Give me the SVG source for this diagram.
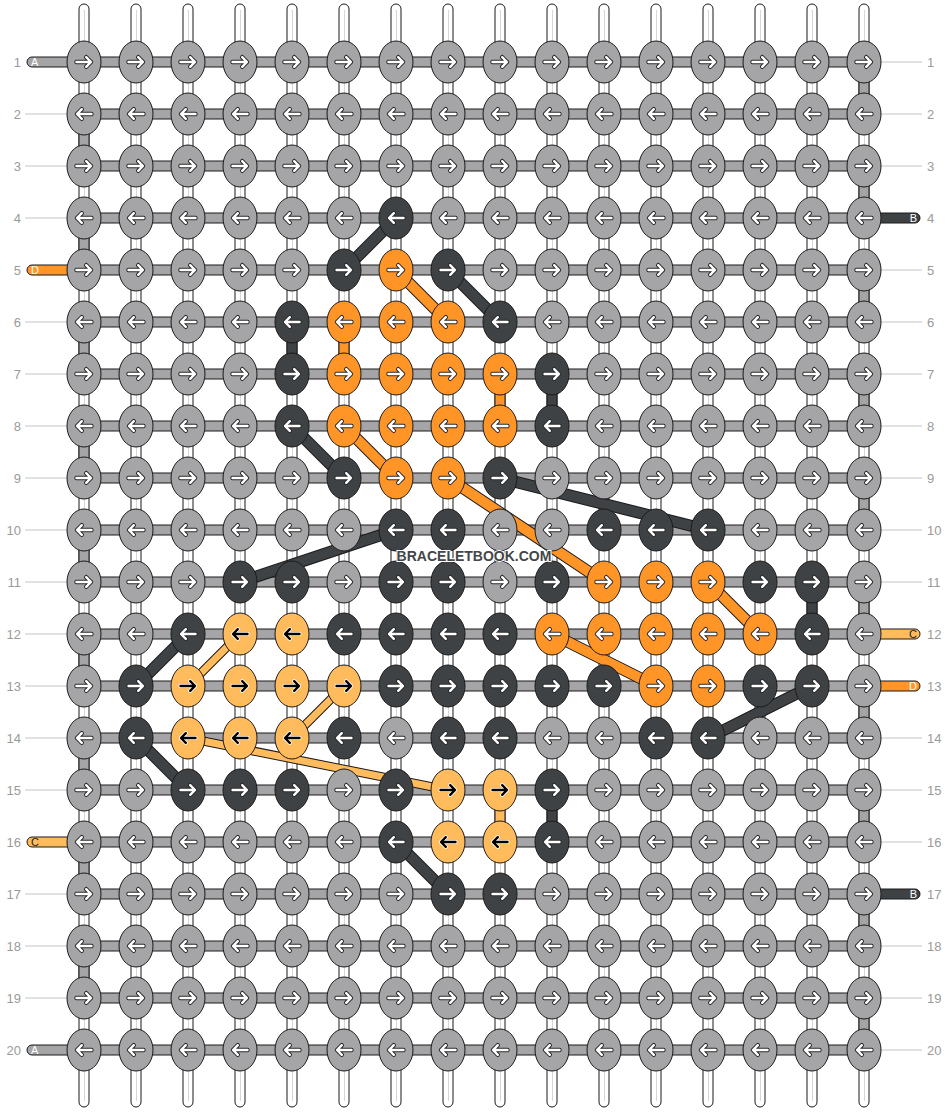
<svg xmlns="http://www.w3.org/2000/svg" width="948" height="1112" viewBox="0 0 948 1112">
<style>
.a{fill:#A5A4A6}.b{fill:#3F4245}.c{fill:#FFBB5C}.d{fill:#FF9527}
.st{stroke:#1a1a1a;stroke-width:1}
.num{font-family:"Liberation Sans",Arial,sans-serif;font-size:13px;fill:#9a9a9a}
.tl{font-family:"Liberation Sans",Arial,sans-serif;font-size:11px}
.guide{stroke:#c4c4c4;stroke-width:1;fill:none}
.vs{fill:#fff;stroke:#1a1a1a;stroke-width:1}
.vin{stroke:#d6d6d6;stroke-width:1;fill:none}
.hs{fill:#A5A4A6;stroke:#1a1a1a;stroke-width:1}
</style>
<defs>
<ellipse id="K" rx="17" ry="21" stroke="#1a1a1a" stroke-width="1"/>
<path id="ar" d="M-7.5,0H6.5M2.2,-4.8L7,0L2.2,4.8" fill="none" stroke-linecap="round" stroke-linejoin="round"/>
<g id="R"><use href="#ar" stroke="#2a2a2a" stroke-width="4.4"/><use href="#ar" stroke="#fff" stroke-width="2.4"/></g>
<g id="L"><use href="#R" transform="scale(-1,1)"/></g>
<g id="Rc"><use href="#ar" stroke="#fff" stroke-width="4"/><use href="#ar" stroke="#000" stroke-width="2.4"/></g>
<g id="Lc"><use href="#Rc" transform="scale(-1,1)"/></g>
<g id="KR"><use href="#K"/><use href="#R"/></g>
<g id="KL"><use href="#K"/><use href="#L"/></g>
<g id="KRc"><use href="#K"/><use href="#Rc"/></g>
<g id="KLc"><use href="#K"/><use href="#Lc"/></g>
<path id="dB" d="M396,218L344,270M448,270L500,322M292,426L344,478M500,478L708,530M396,530L240,582M188,634L136,686M812,686L708,738M136,738L188,790M396,842L448,894"/>
<path id="dD" d="M396,270L448,322M344,426L396,478M448,478L604,582M708,582L760,634M552,634L656,686"/>
<path id="dC" d="M240,634L188,686M344,686L292,738M188,738L448,790"/>
</defs>

<g id="guides">
<path class="guide" d="M25,114H67M25,166H67M25,218H67M25,322H67M25,374H67M25,426H67M25,478H67M25,530H67M25,582H67M25,634H67M25,686H67M25,738H67M25,790H67M25,894H67M25,946H67M25,998H67"/>
<path class="guide" d="M881,62H922M881,114H922M881,166H922M881,270H922M881,322H922M881,374H922M881,426H922M881,478H922M881,530H922M881,582H922M881,738H922M881,790H922M881,842H922M881,946H922M881,998H922M881,1050H922"/>
</g>
<g id="row-labels-left" class="num" text-anchor="end">
<text x="21" y="66.5">1</text><text x="21" y="118.5">2</text><text x="21" y="170.5">3</text><text x="21" y="222.5">4</text><text x="21" y="274.5">5</text><text x="21" y="326.5">6</text><text x="21" y="378.5">7</text><text x="21" y="430.5">8</text><text x="21" y="482.5">9</text><text x="21" y="534.5">10</text><text x="21" y="586.5">11</text><text x="21" y="638.5">12</text><text x="21" y="690.5">13</text><text x="21" y="742.5">14</text><text x="21" y="794.5">15</text><text x="21" y="846.5">16</text><text x="21" y="898.5">17</text><text x="21" y="950.5">18</text><text x="21" y="1002.5">19</text><text x="21" y="1054.5">20</text>
</g>
<g id="row-labels-right" class="num">
<text x="927" y="66.5">1</text><text x="927" y="118.5">2</text><text x="927" y="170.5">3</text><text x="927" y="222.5">4</text><text x="927" y="274.5">5</text><text x="927" y="326.5">6</text><text x="927" y="378.5">7</text><text x="927" y="430.5">8</text><text x="927" y="482.5">9</text><text x="927" y="534.5">10</text><text x="927" y="586.5">11</text><text x="927" y="638.5">12</text><text x="927" y="690.5">13</text><text x="927" y="742.5">14</text><text x="927" y="794.5">15</text><text x="927" y="846.5">16</text><text x="927" y="898.5">17</text><text x="927" y="950.5">18</text><text x="927" y="1002.5">19</text><text x="927" y="1054.5">20</text>
</g>

<g id="vertical-strands">
<rect class="vs" x="79" y="4" width="10" height="1103" rx="5"/><rect class="vs" x="131" y="4" width="10" height="1103" rx="5"/><rect class="vs" x="183" y="4" width="10" height="1103" rx="5"/><rect class="vs" x="235" y="4" width="10" height="1103" rx="5"/><rect class="vs" x="287" y="4" width="10" height="1103" rx="5"/><rect class="vs" x="339" y="4" width="10" height="1103" rx="5"/><rect class="vs" x="391" y="4" width="10" height="1103" rx="5"/><rect class="vs" x="443" y="4" width="10" height="1103" rx="5"/><rect class="vs" x="495" y="4" width="10" height="1103" rx="5"/><rect class="vs" x="547" y="4" width="10" height="1103" rx="5"/><rect class="vs" x="599" y="4" width="10" height="1103" rx="5"/><rect class="vs" x="651" y="4" width="10" height="1103" rx="5"/><rect class="vs" x="703" y="4" width="10" height="1103" rx="5"/><rect class="vs" x="755" y="4" width="10" height="1103" rx="5"/><rect class="vs" x="807" y="4" width="10" height="1103" rx="5"/><rect class="vs" x="859" y="4" width="10" height="1103" rx="5"/>
<path class="vin" d="M84.5,10V1101M136.5,10V1101M188.5,10V1101M240.5,10V1101M292.5,10V1101M344.5,10V1101M396.5,10V1101M448.5,10V1101M500.5,10V1101M552.5,10V1101M604.5,10V1101M656.5,10V1101M708.5,10V1101M760.5,10V1101M812.5,10V1101M864.5,10V1101"/>
</g>

<g id="horizontal-strands">
<rect class="hs" x="84" y="57" width="780" height="10"/><rect class="hs" x="84" y="109" width="780" height="10"/><rect class="hs" x="84" y="161" width="780" height="10"/><rect class="hs" x="84" y="213" width="780" height="10"/><rect class="hs" x="84" y="265" width="780" height="10"/><rect class="hs" x="84" y="317" width="780" height="10"/><rect class="hs" x="84" y="369" width="780" height="10"/><rect class="hs" x="84" y="421" width="780" height="10"/><rect class="hs" x="84" y="473" width="780" height="10"/><rect class="hs" x="84" y="525" width="780" height="10"/><rect class="hs" x="84" y="577" width="780" height="10"/><rect class="hs" x="84" y="629" width="780" height="10"/><rect class="hs" x="84" y="681" width="780" height="10"/><rect class="hs" x="84" y="733" width="780" height="10"/><rect class="hs" x="84" y="785" width="780" height="10"/><rect class="hs" x="84" y="837" width="780" height="10"/><rect class="hs" x="84" y="889" width="780" height="10"/><rect class="hs" x="84" y="941" width="780" height="10"/><rect class="hs" x="84" y="993" width="780" height="10"/><rect class="hs" x="84" y="1045" width="780" height="10"/>
</g>

<g id="thread-ends">
<rect class="a st" x="27" y="57" width="60" height="10" rx="5"/><text class="tl" x="31" y="66" fill="#fff">A</text>
<rect class="d st" x="27" y="265" width="60" height="10" rx="5"/><text class="tl" x="31" y="274" fill="#fff">D</text>
<rect class="c st" x="27" y="837" width="60" height="10" rx="5"/><text class="tl" x="31" y="846" fill="#222">C</text>
<rect class="a st" x="27" y="1045" width="60" height="10" rx="5"/><text class="tl" x="31" y="1054" fill="#fff">A</text>
<rect class="b st" x="861" y="213" width="59" height="10" rx="5"/><text class="tl" x="917" y="222" fill="#fff" text-anchor="end">B</text>
<rect class="c st" x="861" y="629" width="59" height="10" rx="5"/><text class="tl" x="917" y="638" fill="#222" text-anchor="end">C</text>
<rect class="d st" x="861" y="681" width="59" height="10" rx="5"/><text class="tl" x="917" y="690" fill="#fff" text-anchor="end">D</text>
<rect class="b st" x="861" y="889" width="59" height="10" rx="5"/><text class="tl" x="917" y="898" fill="#fff" text-anchor="end">B</text>
</g>

<g id="connectors">
<g class="a st">
<rect x="859" y="62" width="10" height="52"/><rect x="859" y="166" width="10" height="52"/><rect x="859" y="270" width="10" height="52"/><rect x="859" y="374" width="10" height="52"/><rect x="859" y="478" width="10" height="52"/><rect x="859" y="582" width="10" height="52"/><rect x="859" y="686" width="10" height="52"/><rect x="859" y="790" width="10" height="52"/><rect x="859" y="894" width="10" height="52"/><rect x="859" y="998" width="10" height="52"/>
<rect x="79" y="114" width="10" height="52"/><rect x="79" y="218" width="10" height="52"/><rect x="79" y="322" width="10" height="52"/><rect x="79" y="426" width="10" height="52"/><rect x="79" y="530" width="10" height="52"/><rect x="79" y="634" width="10" height="52"/><rect x="79" y="738" width="10" height="52"/><rect x="79" y="842" width="10" height="52"/><rect x="79" y="946" width="10" height="52"/>
</g>
<g class="b st">
<rect x="287" y="322" width="10" height="52"/><rect x="547" y="374" width="10" height="52"/><rect x="807" y="582" width="10" height="52"/><rect x="547" y="790" width="10" height="52"/>
</g>
<g class="d st">
<rect x="339" y="322" width="10" height="52"/><rect x="495" y="374" width="10" height="52"/>
</g>
<g class="c st">
<rect x="495" y="790" width="10" height="52"/>
</g>
<use href="#dB" fill="none" stroke="#1a1a1a" stroke-width="12"/>
<use href="#dB" fill="none" stroke="#3F4245" stroke-width="10"/>
<use href="#dD" fill="none" stroke="#1a1a1a" stroke-width="12"/>
<use href="#dD" fill="none" stroke="#FF9527" stroke-width="10"/>
<use href="#dC" fill="none" stroke="#1a1a1a" stroke-width="9"/>
<use href="#dC" fill="none" stroke="#FFBB5C" stroke-width="7"/>
</g>

<g id="knots">
<g id="n1-1" class="a" transform="translate(84 62)"><use href="#KR"/></g><g id="n1-2" class="a" transform="translate(136 62)"><use href="#KR"/></g><g id="n1-3" class="a" transform="translate(188 62)"><use href="#KR"/></g><g id="n1-4" class="a" transform="translate(240 62)"><use href="#KR"/></g><g id="n1-5" class="a" transform="translate(292 62)"><use href="#KR"/></g><g id="n1-6" class="a" transform="translate(344 62)"><use href="#KR"/></g><g id="n1-7" class="a" transform="translate(396 62)"><use href="#KR"/></g><g id="n1-8" class="a" transform="translate(448 62)"><use href="#KR"/></g><g id="n1-9" class="a" transform="translate(500 62)"><use href="#KR"/></g><g id="n1-10" class="a" transform="translate(552 62)"><use href="#KR"/></g><g id="n1-11" class="a" transform="translate(604 62)"><use href="#KR"/></g><g id="n1-12" class="a" transform="translate(656 62)"><use href="#KR"/></g><g id="n1-13" class="a" transform="translate(708 62)"><use href="#KR"/></g><g id="n1-14" class="a" transform="translate(760 62)"><use href="#KR"/></g><g id="n1-15" class="a" transform="translate(812 62)"><use href="#KR"/></g><g id="n1-16" class="a" transform="translate(864 62)"><use href="#KR"/></g>
<g id="n2-1" class="a" transform="translate(84 114)"><use href="#KL"/></g><g id="n2-2" class="a" transform="translate(136 114)"><use href="#KL"/></g><g id="n2-3" class="a" transform="translate(188 114)"><use href="#KL"/></g><g id="n2-4" class="a" transform="translate(240 114)"><use href="#KL"/></g><g id="n2-5" class="a" transform="translate(292 114)"><use href="#KL"/></g><g id="n2-6" class="a" transform="translate(344 114)"><use href="#KL"/></g><g id="n2-7" class="a" transform="translate(396 114)"><use href="#KL"/></g><g id="n2-8" class="a" transform="translate(448 114)"><use href="#KL"/></g><g id="n2-9" class="a" transform="translate(500 114)"><use href="#KL"/></g><g id="n2-10" class="a" transform="translate(552 114)"><use href="#KL"/></g><g id="n2-11" class="a" transform="translate(604 114)"><use href="#KL"/></g><g id="n2-12" class="a" transform="translate(656 114)"><use href="#KL"/></g><g id="n2-13" class="a" transform="translate(708 114)"><use href="#KL"/></g><g id="n2-14" class="a" transform="translate(760 114)"><use href="#KL"/></g><g id="n2-15" class="a" transform="translate(812 114)"><use href="#KL"/></g><g id="n2-16" class="a" transform="translate(864 114)"><use href="#KL"/></g>
<g id="n3-1" class="a" transform="translate(84 166)"><use href="#KR"/></g><g id="n3-2" class="a" transform="translate(136 166)"><use href="#KR"/></g><g id="n3-3" class="a" transform="translate(188 166)"><use href="#KR"/></g><g id="n3-4" class="a" transform="translate(240 166)"><use href="#KR"/></g><g id="n3-5" class="a" transform="translate(292 166)"><use href="#KR"/></g><g id="n3-6" class="a" transform="translate(344 166)"><use href="#KR"/></g><g id="n3-7" class="a" transform="translate(396 166)"><use href="#KR"/></g><g id="n3-8" class="a" transform="translate(448 166)"><use href="#KR"/></g><g id="n3-9" class="a" transform="translate(500 166)"><use href="#KR"/></g><g id="n3-10" class="a" transform="translate(552 166)"><use href="#KR"/></g><g id="n3-11" class="a" transform="translate(604 166)"><use href="#KR"/></g><g id="n3-12" class="a" transform="translate(656 166)"><use href="#KR"/></g><g id="n3-13" class="a" transform="translate(708 166)"><use href="#KR"/></g><g id="n3-14" class="a" transform="translate(760 166)"><use href="#KR"/></g><g id="n3-15" class="a" transform="translate(812 166)"><use href="#KR"/></g><g id="n3-16" class="a" transform="translate(864 166)"><use href="#KR"/></g>
<g id="n4-1" class="a" transform="translate(84 218)"><use href="#KL"/></g><g id="n4-2" class="a" transform="translate(136 218)"><use href="#KL"/></g><g id="n4-3" class="a" transform="translate(188 218)"><use href="#KL"/></g><g id="n4-4" class="a" transform="translate(240 218)"><use href="#KL"/></g><g id="n4-5" class="a" transform="translate(292 218)"><use href="#KL"/></g><g id="n4-6" class="a" transform="translate(344 218)"><use href="#KL"/></g><g id="n4-7" class="b" transform="translate(396 218)"><use href="#KL"/></g><g id="n4-8" class="a" transform="translate(448 218)"><use href="#KL"/></g><g id="n4-9" class="a" transform="translate(500 218)"><use href="#KL"/></g><g id="n4-10" class="a" transform="translate(552 218)"><use href="#KL"/></g><g id="n4-11" class="a" transform="translate(604 218)"><use href="#KL"/></g><g id="n4-12" class="a" transform="translate(656 218)"><use href="#KL"/></g><g id="n4-13" class="a" transform="translate(708 218)"><use href="#KL"/></g><g id="n4-14" class="a" transform="translate(760 218)"><use href="#KL"/></g><g id="n4-15" class="a" transform="translate(812 218)"><use href="#KL"/></g><g id="n4-16" class="a" transform="translate(864 218)"><use href="#KL"/></g>
<g id="n5-1" class="a" transform="translate(84 270)"><use href="#KR"/></g><g id="n5-2" class="a" transform="translate(136 270)"><use href="#KR"/></g><g id="n5-3" class="a" transform="translate(188 270)"><use href="#KR"/></g><g id="n5-4" class="a" transform="translate(240 270)"><use href="#KR"/></g><g id="n5-5" class="a" transform="translate(292 270)"><use href="#KR"/></g><g id="n5-6" class="b" transform="translate(344 270)"><use href="#KR"/></g><g id="n5-7" class="d" transform="translate(396 270)"><use href="#KR"/></g><g id="n5-8" class="b" transform="translate(448 270)"><use href="#KR"/></g><g id="n5-9" class="a" transform="translate(500 270)"><use href="#KR"/></g><g id="n5-10" class="a" transform="translate(552 270)"><use href="#KR"/></g><g id="n5-11" class="a" transform="translate(604 270)"><use href="#KR"/></g><g id="n5-12" class="a" transform="translate(656 270)"><use href="#KR"/></g><g id="n5-13" class="a" transform="translate(708 270)"><use href="#KR"/></g><g id="n5-14" class="a" transform="translate(760 270)"><use href="#KR"/></g><g id="n5-15" class="a" transform="translate(812 270)"><use href="#KR"/></g><g id="n5-16" class="a" transform="translate(864 270)"><use href="#KR"/></g>
<g id="n6-1" class="a" transform="translate(84 322)"><use href="#KL"/></g><g id="n6-2" class="a" transform="translate(136 322)"><use href="#KL"/></g><g id="n6-3" class="a" transform="translate(188 322)"><use href="#KL"/></g><g id="n6-4" class="a" transform="translate(240 322)"><use href="#KL"/></g><g id="n6-5" class="b" transform="translate(292 322)"><use href="#KL"/></g><g id="n6-6" class="d" transform="translate(344 322)"><use href="#KL"/></g><g id="n6-7" class="d" transform="translate(396 322)"><use href="#KL"/></g><g id="n6-8" class="d" transform="translate(448 322)"><use href="#KL"/></g><g id="n6-9" class="b" transform="translate(500 322)"><use href="#KL"/></g><g id="n6-10" class="a" transform="translate(552 322)"><use href="#KL"/></g><g id="n6-11" class="a" transform="translate(604 322)"><use href="#KL"/></g><g id="n6-12" class="a" transform="translate(656 322)"><use href="#KL"/></g><g id="n6-13" class="a" transform="translate(708 322)"><use href="#KL"/></g><g id="n6-14" class="a" transform="translate(760 322)"><use href="#KL"/></g><g id="n6-15" class="a" transform="translate(812 322)"><use href="#KL"/></g><g id="n6-16" class="a" transform="translate(864 322)"><use href="#KL"/></g>
<g id="n7-1" class="a" transform="translate(84 374)"><use href="#KR"/></g><g id="n7-2" class="a" transform="translate(136 374)"><use href="#KR"/></g><g id="n7-3" class="a" transform="translate(188 374)"><use href="#KR"/></g><g id="n7-4" class="a" transform="translate(240 374)"><use href="#KR"/></g><g id="n7-5" class="b" transform="translate(292 374)"><use href="#KR"/></g><g id="n7-6" class="d" transform="translate(344 374)"><use href="#KR"/></g><g id="n7-7" class="d" transform="translate(396 374)"><use href="#KR"/></g><g id="n7-8" class="d" transform="translate(448 374)"><use href="#KR"/></g><g id="n7-9" class="d" transform="translate(500 374)"><use href="#KR"/></g><g id="n7-10" class="b" transform="translate(552 374)"><use href="#KR"/></g><g id="n7-11" class="a" transform="translate(604 374)"><use href="#KR"/></g><g id="n7-12" class="a" transform="translate(656 374)"><use href="#KR"/></g><g id="n7-13" class="a" transform="translate(708 374)"><use href="#KR"/></g><g id="n7-14" class="a" transform="translate(760 374)"><use href="#KR"/></g><g id="n7-15" class="a" transform="translate(812 374)"><use href="#KR"/></g><g id="n7-16" class="a" transform="translate(864 374)"><use href="#KR"/></g>
<g id="n8-1" class="a" transform="translate(84 426)"><use href="#KL"/></g><g id="n8-2" class="a" transform="translate(136 426)"><use href="#KL"/></g><g id="n8-3" class="a" transform="translate(188 426)"><use href="#KL"/></g><g id="n8-4" class="a" transform="translate(240 426)"><use href="#KL"/></g><g id="n8-5" class="b" transform="translate(292 426)"><use href="#KL"/></g><g id="n8-6" class="d" transform="translate(344 426)"><use href="#KL"/></g><g id="n8-7" class="d" transform="translate(396 426)"><use href="#KL"/></g><g id="n8-8" class="d" transform="translate(448 426)"><use href="#KL"/></g><g id="n8-9" class="d" transform="translate(500 426)"><use href="#KL"/></g><g id="n8-10" class="b" transform="translate(552 426)"><use href="#KL"/></g><g id="n8-11" class="a" transform="translate(604 426)"><use href="#KL"/></g><g id="n8-12" class="a" transform="translate(656 426)"><use href="#KL"/></g><g id="n8-13" class="a" transform="translate(708 426)"><use href="#KL"/></g><g id="n8-14" class="a" transform="translate(760 426)"><use href="#KL"/></g><g id="n8-15" class="a" transform="translate(812 426)"><use href="#KL"/></g><g id="n8-16" class="a" transform="translate(864 426)"><use href="#KL"/></g>
<g id="n9-1" class="a" transform="translate(84 478)"><use href="#KR"/></g><g id="n9-2" class="a" transform="translate(136 478)"><use href="#KR"/></g><g id="n9-3" class="a" transform="translate(188 478)"><use href="#KR"/></g><g id="n9-4" class="a" transform="translate(240 478)"><use href="#KR"/></g><g id="n9-5" class="a" transform="translate(292 478)"><use href="#KR"/></g><g id="n9-6" class="b" transform="translate(344 478)"><use href="#KR"/></g><g id="n9-7" class="d" transform="translate(396 478)"><use href="#KR"/></g><g id="n9-8" class="d" transform="translate(448 478)"><use href="#KR"/></g><g id="n9-9" class="b" transform="translate(500 478)"><use href="#KR"/></g><g id="n9-10" class="a" transform="translate(552 478)"><use href="#KR"/></g><g id="n9-11" class="a" transform="translate(604 478)"><use href="#KR"/></g><g id="n9-12" class="a" transform="translate(656 478)"><use href="#KR"/></g><g id="n9-13" class="a" transform="translate(708 478)"><use href="#KR"/></g><g id="n9-14" class="a" transform="translate(760 478)"><use href="#KR"/></g><g id="n9-15" class="a" transform="translate(812 478)"><use href="#KR"/></g><g id="n9-16" class="a" transform="translate(864 478)"><use href="#KR"/></g>
<g id="n10-1" class="a" transform="translate(84 530)"><use href="#KL"/></g><g id="n10-2" class="a" transform="translate(136 530)"><use href="#KL"/></g><g id="n10-3" class="a" transform="translate(188 530)"><use href="#KL"/></g><g id="n10-4" class="a" transform="translate(240 530)"><use href="#KL"/></g><g id="n10-5" class="a" transform="translate(292 530)"><use href="#KL"/></g><g id="n10-6" class="a" transform="translate(344 530)"><use href="#KL"/></g><g id="n10-7" class="b" transform="translate(396 530)"><use href="#KL"/></g><g id="n10-8" class="b" transform="translate(448 530)"><use href="#KL"/></g><g id="n10-9" class="a" transform="translate(500 530)"><use href="#KL"/></g><g id="n10-10" class="a" transform="translate(552 530)"><use href="#KL"/></g><g id="n10-11" class="b" transform="translate(604 530)"><use href="#KL"/></g><g id="n10-12" class="b" transform="translate(656 530)"><use href="#KL"/></g><g id="n10-13" class="b" transform="translate(708 530)"><use href="#KL"/></g><g id="n10-14" class="a" transform="translate(760 530)"><use href="#KL"/></g><g id="n10-15" class="a" transform="translate(812 530)"><use href="#KL"/></g><g id="n10-16" class="a" transform="translate(864 530)"><use href="#KL"/></g>
<g id="n11-1" class="a" transform="translate(84 582)"><use href="#KR"/></g><g id="n11-2" class="a" transform="translate(136 582)"><use href="#KR"/></g><g id="n11-3" class="a" transform="translate(188 582)"><use href="#KR"/></g><g id="n11-4" class="b" transform="translate(240 582)"><use href="#KR"/></g><g id="n11-5" class="b" transform="translate(292 582)"><use href="#KR"/></g><g id="n11-6" class="a" transform="translate(344 582)"><use href="#KR"/></g><g id="n11-7" class="b" transform="translate(396 582)"><use href="#KR"/></g><g id="n11-8" class="b" transform="translate(448 582)"><use href="#KR"/></g><g id="n11-9" class="a" transform="translate(500 582)"><use href="#KR"/></g><g id="n11-10" class="b" transform="translate(552 582)"><use href="#KR"/></g><g id="n11-11" class="d" transform="translate(604 582)"><use href="#KR"/></g><g id="n11-12" class="d" transform="translate(656 582)"><use href="#KR"/></g><g id="n11-13" class="d" transform="translate(708 582)"><use href="#KR"/></g><g id="n11-14" class="b" transform="translate(760 582)"><use href="#KR"/></g><g id="n11-15" class="b" transform="translate(812 582)"><use href="#KR"/></g><g id="n11-16" class="a" transform="translate(864 582)"><use href="#KR"/></g>
<g id="n12-1" class="a" transform="translate(84 634)"><use href="#KL"/></g><g id="n12-2" class="a" transform="translate(136 634)"><use href="#KL"/></g><g id="n12-3" class="b" transform="translate(188 634)"><use href="#KL"/></g><g id="n12-4" class="c" transform="translate(240 634)"><use href="#KLc"/></g><g id="n12-5" class="c" transform="translate(292 634)"><use href="#KLc"/></g><g id="n12-6" class="b" transform="translate(344 634)"><use href="#KL"/></g><g id="n12-7" class="b" transform="translate(396 634)"><use href="#KL"/></g><g id="n12-8" class="b" transform="translate(448 634)"><use href="#KL"/></g><g id="n12-9" class="b" transform="translate(500 634)"><use href="#KL"/></g><g id="n12-10" class="d" transform="translate(552 634)"><use href="#KL"/></g><g id="n12-11" class="d" transform="translate(604 634)"><use href="#KL"/></g><g id="n12-12" class="d" transform="translate(656 634)"><use href="#KL"/></g><g id="n12-13" class="d" transform="translate(708 634)"><use href="#KL"/></g><g id="n12-14" class="d" transform="translate(760 634)"><use href="#KL"/></g><g id="n12-15" class="b" transform="translate(812 634)"><use href="#KL"/></g><g id="n12-16" class="a" transform="translate(864 634)"><use href="#KL"/></g>
<g id="n13-1" class="a" transform="translate(84 686)"><use href="#KR"/></g><g id="n13-2" class="b" transform="translate(136 686)"><use href="#KR"/></g><g id="n13-3" class="c" transform="translate(188 686)"><use href="#KRc"/></g><g id="n13-4" class="c" transform="translate(240 686)"><use href="#KRc"/></g><g id="n13-5" class="c" transform="translate(292 686)"><use href="#KRc"/></g><g id="n13-6" class="c" transform="translate(344 686)"><use href="#KRc"/></g><g id="n13-7" class="b" transform="translate(396 686)"><use href="#KR"/></g><g id="n13-8" class="b" transform="translate(448 686)"><use href="#KR"/></g><g id="n13-9" class="b" transform="translate(500 686)"><use href="#KR"/></g><g id="n13-10" class="b" transform="translate(552 686)"><use href="#KR"/></g><g id="n13-11" class="b" transform="translate(604 686)"><use href="#KR"/></g><g id="n13-12" class="d" transform="translate(656 686)"><use href="#KR"/></g><g id="n13-13" class="d" transform="translate(708 686)"><use href="#KR"/></g><g id="n13-14" class="b" transform="translate(760 686)"><use href="#KR"/></g><g id="n13-15" class="b" transform="translate(812 686)"><use href="#KR"/></g><g id="n13-16" class="a" transform="translate(864 686)"><use href="#KR"/></g>
<g id="n14-1" class="a" transform="translate(84 738)"><use href="#KL"/></g><g id="n14-2" class="b" transform="translate(136 738)"><use href="#KL"/></g><g id="n14-3" class="c" transform="translate(188 738)"><use href="#KLc"/></g><g id="n14-4" class="c" transform="translate(240 738)"><use href="#KLc"/></g><g id="n14-5" class="c" transform="translate(292 738)"><use href="#KLc"/></g><g id="n14-6" class="b" transform="translate(344 738)"><use href="#KL"/></g><g id="n14-7" class="a" transform="translate(396 738)"><use href="#KL"/></g><g id="n14-8" class="b" transform="translate(448 738)"><use href="#KL"/></g><g id="n14-9" class="b" transform="translate(500 738)"><use href="#KL"/></g><g id="n14-10" class="a" transform="translate(552 738)"><use href="#KL"/></g><g id="n14-11" class="a" transform="translate(604 738)"><use href="#KL"/></g><g id="n14-12" class="b" transform="translate(656 738)"><use href="#KL"/></g><g id="n14-13" class="b" transform="translate(708 738)"><use href="#KL"/></g><g id="n14-14" class="a" transform="translate(760 738)"><use href="#KL"/></g><g id="n14-15" class="a" transform="translate(812 738)"><use href="#KL"/></g><g id="n14-16" class="a" transform="translate(864 738)"><use href="#KL"/></g>
<g id="n15-1" class="a" transform="translate(84 790)"><use href="#KR"/></g><g id="n15-2" class="a" transform="translate(136 790)"><use href="#KR"/></g><g id="n15-3" class="b" transform="translate(188 790)"><use href="#KR"/></g><g id="n15-4" class="b" transform="translate(240 790)"><use href="#KR"/></g><g id="n15-5" class="b" transform="translate(292 790)"><use href="#KR"/></g><g id="n15-6" class="a" transform="translate(344 790)"><use href="#KR"/></g><g id="n15-7" class="b" transform="translate(396 790)"><use href="#KR"/></g><g id="n15-8" class="c" transform="translate(448 790)"><use href="#KRc"/></g><g id="n15-9" class="c" transform="translate(500 790)"><use href="#KRc"/></g><g id="n15-10" class="b" transform="translate(552 790)"><use href="#KR"/></g><g id="n15-11" class="a" transform="translate(604 790)"><use href="#KR"/></g><g id="n15-12" class="a" transform="translate(656 790)"><use href="#KR"/></g><g id="n15-13" class="a" transform="translate(708 790)"><use href="#KR"/></g><g id="n15-14" class="a" transform="translate(760 790)"><use href="#KR"/></g><g id="n15-15" class="a" transform="translate(812 790)"><use href="#KR"/></g><g id="n15-16" class="a" transform="translate(864 790)"><use href="#KR"/></g>
<g id="n16-1" class="a" transform="translate(84 842)"><use href="#KL"/></g><g id="n16-2" class="a" transform="translate(136 842)"><use href="#KL"/></g><g id="n16-3" class="a" transform="translate(188 842)"><use href="#KL"/></g><g id="n16-4" class="a" transform="translate(240 842)"><use href="#KL"/></g><g id="n16-5" class="a" transform="translate(292 842)"><use href="#KL"/></g><g id="n16-6" class="a" transform="translate(344 842)"><use href="#KL"/></g><g id="n16-7" class="b" transform="translate(396 842)"><use href="#KL"/></g><g id="n16-8" class="c" transform="translate(448 842)"><use href="#KLc"/></g><g id="n16-9" class="c" transform="translate(500 842)"><use href="#KLc"/></g><g id="n16-10" class="b" transform="translate(552 842)"><use href="#KL"/></g><g id="n16-11" class="a" transform="translate(604 842)"><use href="#KL"/></g><g id="n16-12" class="a" transform="translate(656 842)"><use href="#KL"/></g><g id="n16-13" class="a" transform="translate(708 842)"><use href="#KL"/></g><g id="n16-14" class="a" transform="translate(760 842)"><use href="#KL"/></g><g id="n16-15" class="a" transform="translate(812 842)"><use href="#KL"/></g><g id="n16-16" class="a" transform="translate(864 842)"><use href="#KL"/></g>
<g id="n17-1" class="a" transform="translate(84 894)"><use href="#KR"/></g><g id="n17-2" class="a" transform="translate(136 894)"><use href="#KR"/></g><g id="n17-3" class="a" transform="translate(188 894)"><use href="#KR"/></g><g id="n17-4" class="a" transform="translate(240 894)"><use href="#KR"/></g><g id="n17-5" class="a" transform="translate(292 894)"><use href="#KR"/></g><g id="n17-6" class="a" transform="translate(344 894)"><use href="#KR"/></g><g id="n17-7" class="a" transform="translate(396 894)"><use href="#KR"/></g><g id="n17-8" class="b" transform="translate(448 894)"><use href="#KR"/></g><g id="n17-9" class="b" transform="translate(500 894)"><use href="#KR"/></g><g id="n17-10" class="a" transform="translate(552 894)"><use href="#KR"/></g><g id="n17-11" class="a" transform="translate(604 894)"><use href="#KR"/></g><g id="n17-12" class="a" transform="translate(656 894)"><use href="#KR"/></g><g id="n17-13" class="a" transform="translate(708 894)"><use href="#KR"/></g><g id="n17-14" class="a" transform="translate(760 894)"><use href="#KR"/></g><g id="n17-15" class="a" transform="translate(812 894)"><use href="#KR"/></g><g id="n17-16" class="a" transform="translate(864 894)"><use href="#KR"/></g>
<g id="n18-1" class="a" transform="translate(84 946)"><use href="#KL"/></g><g id="n18-2" class="a" transform="translate(136 946)"><use href="#KL"/></g><g id="n18-3" class="a" transform="translate(188 946)"><use href="#KL"/></g><g id="n18-4" class="a" transform="translate(240 946)"><use href="#KL"/></g><g id="n18-5" class="a" transform="translate(292 946)"><use href="#KL"/></g><g id="n18-6" class="a" transform="translate(344 946)"><use href="#KL"/></g><g id="n18-7" class="a" transform="translate(396 946)"><use href="#KL"/></g><g id="n18-8" class="a" transform="translate(448 946)"><use href="#KL"/></g><g id="n18-9" class="a" transform="translate(500 946)"><use href="#KL"/></g><g id="n18-10" class="a" transform="translate(552 946)"><use href="#KL"/></g><g id="n18-11" class="a" transform="translate(604 946)"><use href="#KL"/></g><g id="n18-12" class="a" transform="translate(656 946)"><use href="#KL"/></g><g id="n18-13" class="a" transform="translate(708 946)"><use href="#KL"/></g><g id="n18-14" class="a" transform="translate(760 946)"><use href="#KL"/></g><g id="n18-15" class="a" transform="translate(812 946)"><use href="#KL"/></g><g id="n18-16" class="a" transform="translate(864 946)"><use href="#KL"/></g>
<g id="n19-1" class="a" transform="translate(84 998)"><use href="#KR"/></g><g id="n19-2" class="a" transform="translate(136 998)"><use href="#KR"/></g><g id="n19-3" class="a" transform="translate(188 998)"><use href="#KR"/></g><g id="n19-4" class="a" transform="translate(240 998)"><use href="#KR"/></g><g id="n19-5" class="a" transform="translate(292 998)"><use href="#KR"/></g><g id="n19-6" class="a" transform="translate(344 998)"><use href="#KR"/></g><g id="n19-7" class="a" transform="translate(396 998)"><use href="#KR"/></g><g id="n19-8" class="a" transform="translate(448 998)"><use href="#KR"/></g><g id="n19-9" class="a" transform="translate(500 998)"><use href="#KR"/></g><g id="n19-10" class="a" transform="translate(552 998)"><use href="#KR"/></g><g id="n19-11" class="a" transform="translate(604 998)"><use href="#KR"/></g><g id="n19-12" class="a" transform="translate(656 998)"><use href="#KR"/></g><g id="n19-13" class="a" transform="translate(708 998)"><use href="#KR"/></g><g id="n19-14" class="a" transform="translate(760 998)"><use href="#KR"/></g><g id="n19-15" class="a" transform="translate(812 998)"><use href="#KR"/></g><g id="n19-16" class="a" transform="translate(864 998)"><use href="#KR"/></g>
<g id="n20-1" class="a" transform="translate(84 1050)"><use href="#KL"/></g><g id="n20-2" class="a" transform="translate(136 1050)"><use href="#KL"/></g><g id="n20-3" class="a" transform="translate(188 1050)"><use href="#KL"/></g><g id="n20-4" class="a" transform="translate(240 1050)"><use href="#KL"/></g><g id="n20-5" class="a" transform="translate(292 1050)"><use href="#KL"/></g><g id="n20-6" class="a" transform="translate(344 1050)"><use href="#KL"/></g><g id="n20-7" class="a" transform="translate(396 1050)"><use href="#KL"/></g><g id="n20-8" class="a" transform="translate(448 1050)"><use href="#KL"/></g><g id="n20-9" class="a" transform="translate(500 1050)"><use href="#KL"/></g><g id="n20-10" class="a" transform="translate(552 1050)"><use href="#KL"/></g><g id="n20-11" class="a" transform="translate(604 1050)"><use href="#KL"/></g><g id="n20-12" class="a" transform="translate(656 1050)"><use href="#KL"/></g><g id="n20-13" class="a" transform="translate(708 1050)"><use href="#KL"/></g><g id="n20-14" class="a" transform="translate(760 1050)"><use href="#KL"/></g><g id="n20-15" class="a" transform="translate(812 1050)"><use href="#KL"/></g><g id="n20-16" class="a" transform="translate(864 1050)"><use href="#KL"/></g>
</g>

<text id="watermark" x="474" y="561" text-anchor="middle" font-family="'Liberation Sans',Arial,sans-serif" font-weight="bold" font-size="14" fill="#444648" stroke="#fff" stroke-width="2" paint-order="stroke">BRACELETBOOK.COM</text>
</svg>
